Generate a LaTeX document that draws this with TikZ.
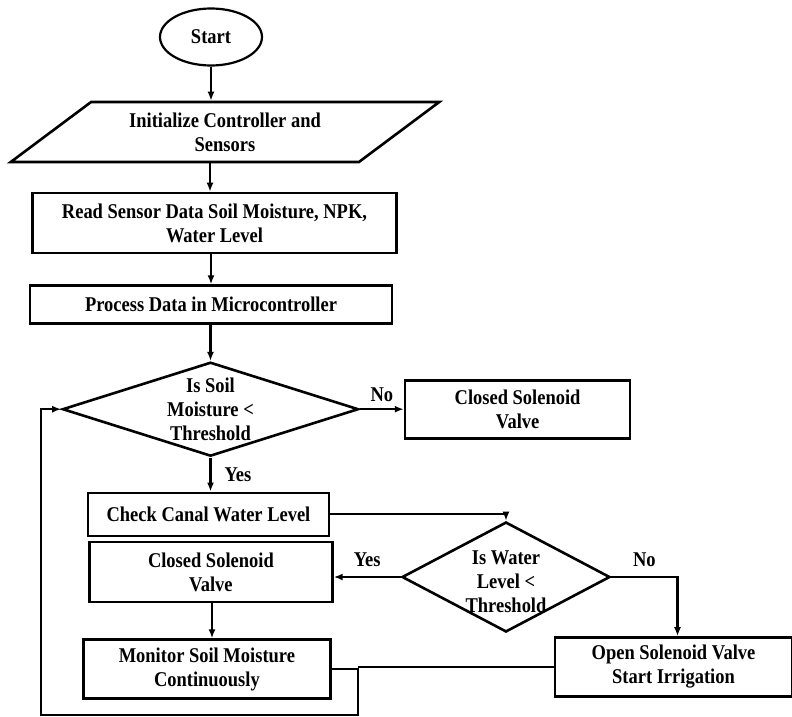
\documentclass[tikz,border=0pt]{standalone}
\usepackage{fontspec}
\setmainfont{Liberation Serif}[FakeStretch=0.88]
\usetikzlibrary{arrows.meta,shapes,positioning}

\begin{document}
\begin{tikzpicture}[
        x=1pt, y=-1pt,
        node distance=30pt and 40pt,
        >={Latex[length=9pt,width=7pt]},
        every node/.style={font=\fontsize{21}{24}\selectfont\bfseries, align=center},
        every path/.style={line width=2.2pt},
        terminal/.style={draw, ellipse, line width=2.2pt, inner sep=0pt},
        inout/.style={draw, trapezium, trapezium left angle=34, trapezium right angle=146,
            trapezium stretches=true, line width=2.6pt, inner sep=0pt},
        process/.style={draw, rectangle, line width=2.6pt, inner sep=0pt},
        decision/.style={draw, diamond, line width=2.6pt, inner sep=0pt},
        tag/.style={inner sep=1pt}
    ]

    \useasboundingbox (0,0) rectangle (792,717);

    % Nodes
    \node (start)[terminal, minimum width=102pt, minimum height=57pt] at (211,37) {Start};

    \node (init)[inout, minimum width=430pt, minimum height=60pt] at (225,132)
        {Initialize Controller and \\ Sensors};

    \node (read)[process, minimum width=364pt, minimum height=60pt] at (214.5,223)
        {Read Sensor Data Soil Moisture, NPK, \\ Water Level};
    \node (proc)[below=30pt of read, process, minimum width=362pt, minimum height=38pt, xshift=-3.5pt]
        {Process Data in Microcontroller};

    \node (d1)[below=36pt of proc, decision, minimum width=296pt, minimum height=94pt, xshift=-0.5pt,
        label={center:Is Soil \\ Moisture < \\ Threshold}] {};
    \node (c1)[right=44pt of d1, process, minimum width=225pt, minimum height=58pt]
        {Closed Solenoid \\ Valve};

    \node (check)[below=34pt of d1, process, minimum width=241pt, minimum height=43pt, xshift=-2pt]
        {Check Canal Water Level};

    \node (d2)[decision, minimum width=208pt, minimum height=110pt,
        label={[yshift=-5pt]center:Is Water \\ Level < \\ Threshold}] at (506,577) {};
    \node (c2)[left=67pt of d2, process, minimum width=243pt, minimum height=60pt, yshift=5pt]
        {Closed Solenoid \\ Valve};
    \node (mon)[below=35pt of c2, process, minimum width=247pt, minimum height=59pt, xshift=-4pt]
        {Monitor Soil Moisture \\ Continuously};

    \node (open)[process, minimum width=237pt, minimum height=59pt] at (673.5,667)
        {Open Solenoid Valve \\ Start Irrigation};

    \coordinate (jn) at (358,715);
    \coordinate (lc) at (41,715);

    % Edges
    \draw[->] (start.south) -- (start.south |- init.north);
    \draw[->] (init.south -| 210,0) -- (read.north -| 210,0);
    \draw[->] (read.south -| proc.north) -- (proc.north);
    \draw[->] (proc.south -| d1.north) -- (d1.north);
    \draw[->] (d1.east) -- (c1.west) node[tag, midway, above=5pt] {No};
    \draw[->] (d1.south) -- (d1.south |- check.north) node[tag, midway, right=12pt] {Yes};
    \draw[->] (check.east) -| (d2.north);
    \draw[->] (d2.west) -- (d2.west -| c2.east) node[tag, midway, above=8pt] {Yes};
    \draw[->] (d2.east) -| ([xshift=4pt]open.north) node[tag, pos=0.25, above=8pt] {No};
    \draw[->] (c2.south -| 212,0) -- (mon.north -| 212,0);
    \draw (open.west) -- (open.west -| jn);
    \draw[->] (mon.east) -| (jn) -- (lc) |- (d1.west);

\end{tikzpicture}
\end{document}
